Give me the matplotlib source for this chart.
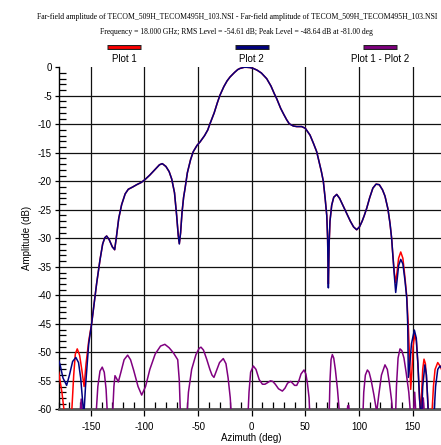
import matplotlib
matplotlib.use("Agg")
import matplotlib.pyplot as plt
from matplotlib.lines import Line2D
from matplotlib.ticker import MultipleLocator

# Данные (азимут, град; амплитуда, дБ)
az_plot1 = [-180, -177, -174.5, -168, -166, -164.5, -162.7, -160.5, -158.5, -156.3,
            -154.5, -152, -149.3, -147, -144.6, -141.5, -139, -137, -135.3, -133,
            -130, -127.8, -126, -124, -121.3, -118, -115.1, -111, -107.3, -103,
            -99.5, -95, -90, -86, -83.4, -80, -77, -74.6, -72, -70,
            -68.5, -67.5, -66.3, -65, -63.5, -62.2, -60, -57, -54.5, -51,
            -48.2, -44, -41, -38.9, -35, -32, -29.6, -26, -23, -20.2,
            -16, -13, -10.9, -7, -4.7, -1.5, 1.5, 5, 9, 14,
            18, 21, 23.3, 27, 30, 32.6, 35, 38.8, 42, 46.6,
            50, 54.4, 57.5, 60.6, 63, 65, 66.8, 68.5, 70, 70.8,
            71.5, 72.2, 73, 74.6, 76.5, 79.3, 82, 85, 88.6, 92,
            95, 97.9, 100.5, 103, 105, 107.3, 110, 113, 116, 119,
            122, 124.3, 127, 129, 130.5, 131.5, 133, 134.3, 135.5, 137,
            139, 141, 143, 144.6, 146, 147.2, 148.3, 149.5, 150.5, 152,
            153.5, 155, 156.5, 157.5, 158.5, 159.5, 160.7, 162, 163.5, 165,
            168, 169.5, 171, 173.5, 176, 178, 180]
amp_plot1 = [-53.5, -57, -61, -61, -54, -50.3, -49.4, -50.5, -53, -56,
             -52, -48, -45, -41.5, -37.9, -33.8, -31, -29.9, -29.6, -30.2,
             -31.5, -32, -29.5, -26.5, -24.1, -22.2, -21.4, -21, -20.6, -20.2,
             -19.7, -18.9, -17.9, -17.1, -16.9, -17.4, -18.3, -19.6, -22, -26,
             -29.5, -30.9, -29, -25.5, -22.8, -21.3, -18.5, -16.2, -14.8, -13.7,
             -13.1, -12, -11, -9.9, -8, -6.2, -4.9, -3.4, -2.4, -1.7,
             -0.9, -0.4, -0.2, 0, 0, -0.05, -0.2, -0.5, -1, -2,
             -3.3, -4.6, -5.5, -7.2, -8.3, -9.2, -9.9, -10.3, -10.4, -10.4,
             -10.7, -11.9, -13.3, -14.8, -16.7, -18.3, -20, -23, -26, -30,
             -38, -31, -27, -24.2, -22.8, -22.3, -23, -24.2, -25.6, -27,
             -28, -28.5, -28, -27, -26, -24.7, -22.9, -21.2, -20.5, -20.6,
             -21.5, -22.6, -24.8, -27.4, -30, -32.6, -36, -37.8, -36, -33.5,
             -32.4, -33.5, -37, -40.2, -45, -51, -56.5, -53, -49, -46.9,
             -48, -52, -58, -61, -57, -53, -51.2, -52, -56, -61,
             -61, -56, -53, -51.8, -52.5, -53.5, -55]

az_plot2 = [-180, -178.8, -176, -172.6, -170, -167, -164, -161.5, -159.5, -157.5,
            -156.5, -155, -152, -149.3, -147, -144.6, -141.5, -139, -137, -135.3,
            -133, -130, -127.8, -126, -124, -121.3, -118, -115.1, -111, -107.3,
            -103, -99.5, -95, -90, -86, -83.4, -80, -77, -74.6, -72,
            -70, -68.5, -67.5, -66.3, -65, -63.5, -62.2, -60, -57, -54.5,
            -51, -48.2, -44, -41, -38.9, -35, -32, -29.6, -26, -23,
            -20.2, -16, -13, -10.9, -7, -4.7, -1.5, 1.5, 5, 9,
            14, 18, 21, 23.3, 27, 30, 32.6, 35, 38.8, 42,
            46.6, 50, 54.4, 57.5, 60.6, 63, 65, 66.8, 68.5, 70,
            70.8, 71.5, 72.2, 73, 74.6, 76.5, 79.3, 82, 85, 88.6,
            92, 95, 97.9, 100.5, 103, 105, 107.3, 110, 113, 116,
            119, 122, 124.3, 127, 129, 130.5, 131.5, 133, 134.3, 135.5,
            137, 139, 141, 143, 144.6, 145.5, 146.1, 147.5, 149, 151.7,
            153.5, 155, 156.5, 157.6, 158.5, 159.5, 161.5, 163, 164.5, 166,
            170, 171.5, 173.5, 175.6, 178, 180]
amp_plot2 = [-51.5, -52.1, -54.5, -55.8, -54, -51.6, -50.9, -51.8, -54.5, -59,
             -61, -56, -48.5, -45, -41.5, -37.9, -33.8, -31, -29.9, -29.6,
             -30.2, -31.5, -32, -29.5, -26.5, -24.1, -22.2, -21.4, -21, -20.6,
             -20.2, -19.7, -18.9, -17.9, -17.1, -16.9, -17.4, -18.3, -19.6, -22,
             -26, -29.5, -31, -29, -25.5, -22.8, -21.3, -18.5, -16.2, -14.8,
             -13.7, -13.1, -12, -11, -9.9, -8, -6.2, -4.9, -3.4, -2.4,
             -1.7, -0.9, -0.4, -0.2, 0, 0, -0.05, -0.2, -0.5, -1,
             -2, -3.3, -4.6, -5.5, -7.2, -8.3, -9.2, -9.9, -10.3, -10.4,
             -10.4, -10.7, -11.9, -13.3, -14.8, -16.7, -18.3, -20, -23, -26,
             -30, -38.7, -31, -27, -24.2, -22.8, -22.3, -23, -24.2, -25.6,
             -27, -28, -28.5, -28, -27, -26, -24.7, -22.9, -21.2, -20.5,
             -20.6, -21.5, -22.6, -24.8, -27.4, -30, -32.6, -36.5, -39.5, -37.5,
             -34.8, -33.7, -34.5, -37.5, -40.5, -45, -54.4, -52, -48.5, -46.1,
             -47.5, -52, -58, -61, -61, -56, -52.2, -54, -60, -61,
             -61, -56, -53, -52.4, -53, -54]

az_diff = [-180, -160.5, -159, -157.5, -145.5, -143.5, -141.5, -139.4, -137.5, -135.8,
           -134.3, -130, -128.5, -127.5, -126, -124.4, -122, -119, -115.7, -113,
           -110, -106, -102.6, -99, -95, -90, -85, -81, -77, -73,
           -69, -67.5, -66.3, -60.7, -59, -56, -52, -49, -47.3, -45,
           -42, -39, -37, -35.2, -33, -30, -26.5, -24, -22, -20,
           -18.7, -3.7, -2.5, -1, 1.5, 4, 7, 10, 12.4, 15,
           17.5, 19.6, 22, 25, 28.6, 31, 33.5, 36.4, 38.5, 40,
           42, 44, 46, 48.8, 50.5, 52, 53.5, 54.4, 72.1, 73,
           74, 75.2, 76.5, 78, 80, 82.4, 88.8, 89.5, 90.5, 91.5,
           103.5, 104.5, 106, 107.9, 109.5, 111.5, 114, 116.6, 118.5, 121,
           124.3, 126.5, 128.5, 130.5, 132.1, 134, 135, 136.5, 138.3, 140,
           142, 144, 146.5, 148.6, 150.5, 152, 153.5, 158.5, 160, 161.5,
           180]
amp_diff = [-62, -62, -58.2, -62, -62, -56, -53.3, -52.6, -53.5, -56.5,
            -62, -62, -56, -54.1, -54.6, -55.2, -53.5, -51.3, -50.5, -51.3,
            -53.2, -56, -57.5, -56, -53, -50.3, -48.9, -48.6, -49.2, -50.1,
            -51.3, -55, -62, -62, -57, -53, -50.4, -49.3, -49.1, -49.6,
            -51.2, -53, -54, -54.4, -53.3, -51.8, -51.1, -52, -54.5, -58,
            -62, -62, -57, -53.5, -52.4, -53, -54.8, -55.6, -55.6, -55.3,
            -55, -55.1, -55.6, -56.4, -56.8, -56.3, -55.4, -55.1, -55.5, -55.8,
            -55.8, -55, -53.8, -53.1, -53.8, -55.5, -58, -62, -62, -55,
            -51.3, -50.4, -51, -53, -56.5, -62, -62, -59.4, -59.3, -62,
            -62, -57, -54, -53.1, -53.5, -55, -57.5, -60.5, -57.5, -54,
            -52.2, -53, -55.5, -58.5, -62, -62, -56, -51, -49.4, -49.7,
            -51, -53.5, -57, -62, -62, -57, -62, -62, -58, -62,
            -62]

series_names = ['Plot 1', 'Plot 2', 'Plot 1 - Plot 2']
series_colors = ['#ff0000', '#000080', '#800080']

title_line1 = ('Far-field amplitude of TECOM_509H_TECOM495H_103.NSI - '
               'Far-field amplitude of TECOM_509H_TECOM495H_103.NSI')
title_line2 = ('Frequency = 18.000 GHz; RMS Level = -54.61 dB; '
               'Peak Level = -48.64 dB at -81.00 deg')

plt.rcParams['font.family'] = ['Liberation Sans', 'DejaVu Sans']
plt.rcParams['axes.unicode_minus'] = False

fig = plt.figure(figsize=(4.41, 4.45), dpi=100)
ax = fig.add_axes([0.1331, 0.0802, 0.8753, 0.7686])

ax.plot(az_plot1, amp_plot1, color=series_colors[0], lw=1.1, zorder=3)
ax.plot(az_plot2, amp_plot2, color=series_colors[1], lw=1.1, zorder=4)
ax.plot(az_diff, amp_diff, color=series_colors[2], lw=1.1, zorder=3)

ax.set_xlim(-180, 180)
ax.set_ylim(-60, 0)
ax.xaxis.set_major_locator(MultipleLocator(50))
ax.xaxis.set_minor_locator(MultipleLocator(10))
ax.yaxis.set_major_locator(MultipleLocator(5))
ax.yaxis.set_minor_locator(MultipleLocator(1))

ax.grid(True, which='major', color='#111111', lw=0.9)
ax.tick_params(which='major', direction='out', length=3, width=0.9,
               labelsize=7, pad=2)
ax.tick_params(axis='x', which='major', length=5, pad=4)
ax.tick_params(which='minor', direction='in', length=5, width=0.9)
ax.tick_params(axis='x', which='minor', length=5)

# у нуля горизонтальной линии сетки нет
fig.canvas.draw()
for val, gl in zip(ax.get_yticks(), ax.get_ygridlines()):
    if val == 0:
        gl.set_visible(False)

ax.spines['top'].set_visible(False)
ax.spines['right'].set_visible(False)
ax.spines['left'].set_linewidth(1.0)
ax.spines['bottom'].set_color('#555555')
ax.spines['bottom'].set_linewidth(2.0)

ax.set_xlabel('Azimuth (deg)', fontsize=7, labelpad=1)
ax.set_ylabel('Amplitude (dB)', fontsize=7, labelpad=4)

# заголовок в две строки
fig.text(0.537, 0.962, title_line1, ha='center', va='center',
         fontsize=5.6, family='Liberation Serif')
fig.text(0.537, 0.929, title_line2, ha='center', va='center',
         fontsize=5.5, family='Liberation Serif')

# легенда сверху
for name, col, cx in zip(series_names, series_colors, [0.281, 0.571, 0.862]):
    fig.add_artist(Line2D([cx - 0.038, cx + 0.038], [0.894, 0.894],
                          transform=fig.transFigure, color='#222222', lw=3.6,
                          solid_capstyle='butt'))
    fig.add_artist(Line2D([cx - 0.036, cx + 0.036], [0.894, 0.894],
                          transform=fig.transFigure, color=col, lw=2.0,
                          solid_capstyle='butt'))
    fig.text(cx, 0.867, name, ha='center', va='center', fontsize=7)

fig.savefig('out.png', dpi=100)
